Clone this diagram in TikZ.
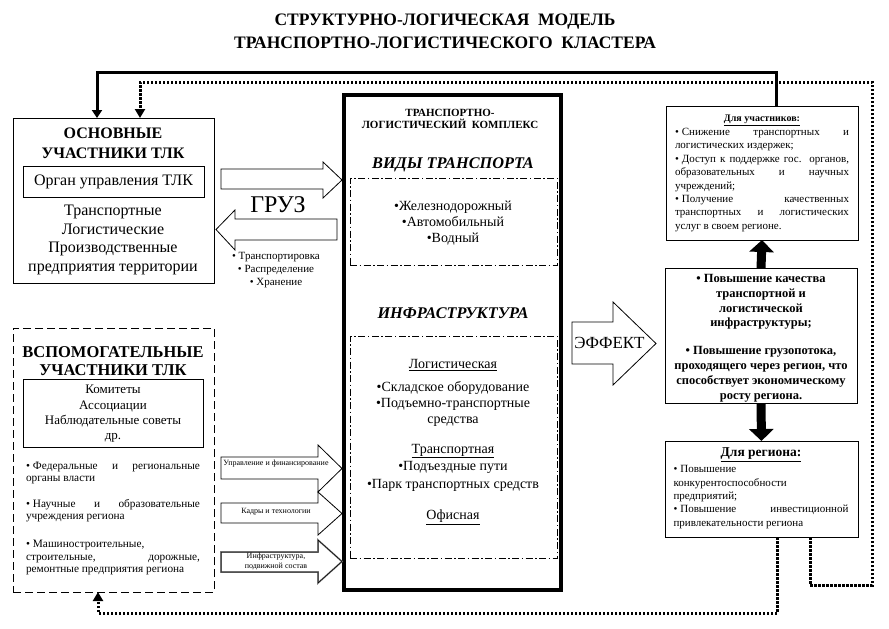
\documentclass[tikz,border=0pt]{standalone}
\usepackage{fontspec}
\setmainfont{Liberation Serif}
\usetikzlibrary{arrows.meta,calc}
\newcommand{\fs}[2]{\fontsize{#1}{#2}\selectfont}
\newcommand{\bul}{•\hspace{3pt}}
\begin{document}
\begin{tikzpicture}[x=1pt,y=-1pt,
  every node/.style={inner sep=0pt, outer sep=0pt},
  box/.style={draw, line width=1pt},
  dbox/.style={draw, line width=1pt, dash pattern=on 8pt off 4pt},
  ddbox/.style={draw, line width=0.7pt, dash pattern=on 7pt off 2.5pt on 1.5pt off 2.5pt},
  blk/.style={draw, line width=0.8pt, fill=white, line join=miter},
  solidc/.style={line width=3pt, -{Triangle[length=8pt,width=10pt]}},
  dotc/.style={line width=3pt, dash pattern=on 2.5pt off 1.5pt, -{Triangle[length=9pt,width=10pt]}},
  fat/.style={line width=9pt, -{Triangle[length=12pt,width=24pt]}},
  txt/.style={align=center}
]
\useasboundingbox (0,0) rectangle (889,629);

% title
\node[txt, font=\bfseries\fs{17.5}{23}] (title) at (445,31.5) {СТРУКТУРНО-ЛОГИЧЕСКАЯ\ \ МОДЕЛЬ\\ТРАНСПОРТНО-ЛОГИСТИЧЕСКОГО\ \ КЛАСТЕРА};

% main participants
\node[box, minimum width=201pt, minimum height=165pt] (osn) at (113.5,200.5) {};
\node[txt, font=\bfseries\fs{16}{20}] (osnT) at (113,143) {ОСНОВНЫЕ\\УЧАСТНИКИ ТЛК};
\node[box, minimum width=181pt, minimum height=31pt, font=\fs{16}{16}] (organ) at (113.5,181.5) {Орган управления ТЛК};
\node[txt, font=\fs{16}{18.7}] (osnL) at (113,240) {Транспортные\\Логистические\\Производственные\\предприятия территории};

% cargo arrows
\draw[blk] (221,169) -- (323,169) -- (323,162) -- (342,180) -- (323,198) -- (323,189) -- (221,189) -- cycle;
\draw[blk] (337,219) -- (235,219) -- (235,210) -- (216,229.5) -- (235,250) -- (235,240) -- (337,240) -- cycle;
\node[font=\fs{24}{24}] (gruz) at (278,205) {ГРУЗ};
\node[txt, font=\fs{11}{13}] (ops) at (276,270) {• Транспортировка\\• Распределение\\• Хранение};

% central complex
\node[draw, line width=4pt, minimum width=217pt, minimum height=495pt] (tlk) at (452.5,342.5) {};
\node[txt, font=\bfseries\fs{11}{12}] (tlkT) at (450,119) {ТРАНСПОРТНО-\\ЛОГИСТИЧЕСКИЙ\ \ КОМПЛЕКС};
\node[font=\bfseries\itshape\fs{16.3}{16}] (vidy) at (453,165) {ВИДЫ ТРАНСПОРТА};
\node[ddbox, minimum width=207pt, minimum height=87pt] (vidyB) at (453.5,221.5) {};
\node[txt, font=\fs{14}{16}] (vidyL) at (453,223) {•Железнодорожный\\•Автомобильный\\•Водный};
\node[font=\bfseries\itshape\fs{16.3}{16}] (infra) at (453,313) {ИНФРАСТРУКТУРА};
\node[ddbox, minimum width=207pt, minimum height=222pt] (infraB) at (453.5,447) {};
\node[font=\fs{14}{16}] (logT) at (453,365) {\underline{Логистическая}};
\node[txt, font=\fs{14}{16}] (logL) at (453,404) {•Складское оборудование\\•Подъемно-транспортные\\средства};
\node[font=\fs{14}{16}] (trT) at (453,451) {\underline{Транспортная}};
\node[txt, font=\fs{14}{18}] (trL) at (453,476) {•Подъездные пути\\•Парк транспортных средств};
\node[font=\fs{14}{16}] (ofT) at (453,517) {\underline{Офисная}};

% effect arrow
\draw[blk] (572,322) -- (613,322) -- (613,302) -- (656,343.5) -- (613,385) -- (613,364) -- (572,364) -- cycle;
\node[font=\fs{17}{17}] (eff) at (609.5,343) {ЭФФЕКТ};

% participants effects
\node[box, minimum width=192pt, minimum height=134pt] (part) at (762,173) {};
\node[font=\bfseries\fs{10}{11}] (partT) at (762,120) {\underline{Для участников:}};
\node[align=left, font=\fs{11}{13.4}] (partL) at (762,180) {%
\makebox[174pt][s]{\bul Снижение транспортных и}\\
логистических издержек;\\
\makebox[174pt][s]{\bul Доступ к поддержке гос. органов,}\\
\makebox[174pt][s]{образовательных и научных}\\
учреждений;\\
\makebox[174pt][s]{\bul Получение качественных}\\
\makebox[174pt][s]{транспортных и логистических}\\
услуг в своем регионе.};

% effect box
\node[box, minimum width=192pt, minimum height=135pt] (effB) at (761,336) {};
\node[txt, font=\bfseries\fs{12.5}{14.8}] (effL) at (761,338) {• Повышение качества\\транспортной и\\логистической\\инфраструктуры;\\[13pt]• Повышение грузопотока,\\проходящего через регион, что\\способствует экономическому\\росту региона.};

% region box
\node[box, minimum width=193pt, minimum height=96pt] (reg) at (761.5,489) {};
\node[font=\bfseries\fs{13.5}{14}] (regT) at (761,455) {\underline{Для региона:}};
\node[align=left, font=\fs{11}{13.3}] (regL) at (761,497) {%
\bul Повышение\\
конкурентоспособности\\
предприятий;\\
\makebox[175pt][s]{\bul Повышение инвестиционной}\\
привлекательности региона};

\draw[fat] (effB.north) -- (part.south);
\draw[fat] (effB.south) -- (reg.north);

% auxiliary participants
\node[dbox, minimum width=201pt, minimum height=264pt] (aux) at (113.5,460) {};
\node[txt, font=\bfseries\fs{16.5}{17.5}] (auxT) at (113,361) {ВСПОМОГАТЕЛЬНЫЕ\\УЧАСТНИКИ ТЛК};
\node[box, minimum width=180pt, minimum height=68pt] (auxIn) at (113,413) {};
\node[txt, font=\fs{13}{15.3}] (auxInT) at (113,414) {Комитеты\\Ассоциации\\Наблюдательные советы\\др.};
\node[align=left, font=\fs{11.3}{12}] (b1) at (113,473) {\makebox[174pt][s]{\bul Федеральные и региональные}\\органы власти};
\node[align=left, font=\fs{11.3}{12}] (b2) at (113,511) {\makebox[174pt][s]{\bul Научные и образовательные}\\учреждения региона};
\node[align=left, font=\fs{11.3}{12.5}] (b3) at (113,557.5) {\bul Машиностроительные,\\\makebox[174pt][s]{строительные, дорожные,}\\ремонтные предприятия региона};

% small arrows
\draw[blk] (221,457) -- (318,457) -- (318,445) -- (342,468.5) -- (318,492) -- (318,479) -- (221,479) -- cycle;
\draw[blk] (221,503) -- (318,503) -- (318,492) -- (342,513.5) -- (318,535) -- (318,523) -- (221,523) -- cycle;
\draw[blk, draw=gray, line width=1.6pt] (221,552) -- (318,552) -- (318,540) -- (342,561.5) -- (318,583) -- (318,572) -- (221,572) -- cycle;
\draw[blk, fill=none, line width=0.5pt] (221,552) -- (318,552) -- (318,540) -- (342,561.5) -- (318,583) -- (318,572) -- (221,572) -- cycle;
\node[font=\fs{8}{9}] (a1t) at (276,464) {Управление и финансирование};
\node[font=\fs{8}{9}] (a2t) at (276,512) {Кадры и технологии};
\node[txt, font=\fs{8}{10}] (a3t) at (276,561) {Инфраструктура,\\подвижной состав};

% connectors
\coordinate (s1) at (776,72);
\coordinate (s2) at (97,72);
\draw[solidc] (part.north -| s1) -- (s1) -- (s2) -- (osn.north -| s2);
\coordinate (d1) at (810,585);
\coordinate (d2) at (872,585);
\coordinate (d3) at (872,82);
\coordinate (d4) at (140,82);
\draw[dotc] (reg.south -| d1) -- (d1) -- (d2) -- (d3) -- (d4) -- (osn.north -| d4);
\coordinate (e1) at (777,613);
\coordinate (e2) at (98,613);
\draw[dotc] (reg.south -| e1) -- (e1) -- (e2) -- (aux.south -| e2);
\end{tikzpicture}
\end{document}
